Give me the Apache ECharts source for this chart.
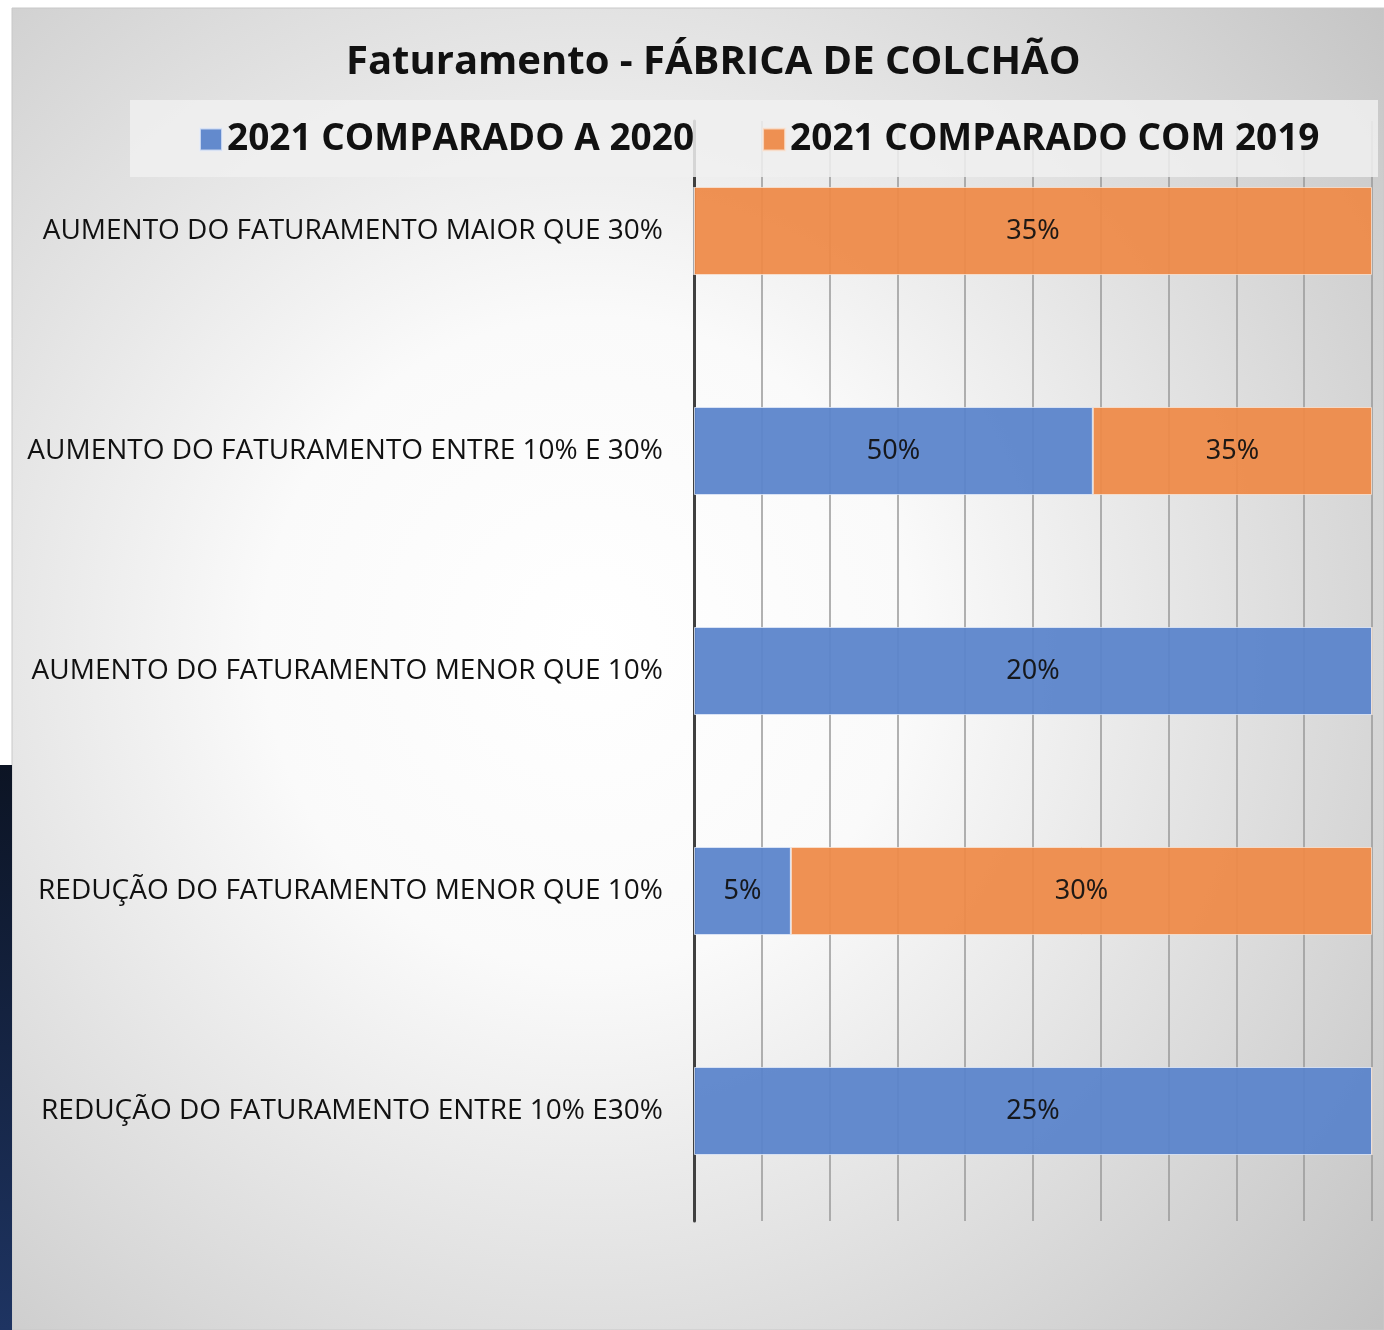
<!DOCTYPE html>
<html>
<head>
<meta charset="utf-8">
<style>
html,body{margin:0;padding:0;background:#fff;}
#chart{width:1384px;height:1330px;}
</style>
<script src="https://cdn.jsdelivr.net/npm/echarts@6/dist/echarts.min.js"></script>
</head>
<body>
<div id="chart"></div>
<script>
const titleText = 'Faturamento - FÁBRICA DE COLCHÃO';
const categories = [
  'AUMENTO DO FATURAMENTO MAIOR QUE 30%',
  'AUMENTO DO FATURAMENTO ENTRE 10% E 30%',
  'AUMENTO DO FATURAMENTO MENOR QUE 10%',
  'REDUÇÃO DO FATURAMENTO MENOR QUE 10%',
  'REDUÇÃO DO FATURAMENTO ENTRE 10% E30%'
];
const seriesNames = ['2021 COMPARADO A 2020', '2021 COMPARADO COM 2019'];
const values2020 = [0, 50, 20, 5, 25];
const values2019 = [35, 35, 0, 30, 0];

const totals = categories.map((c, i) => values2020[i] + values2019[i]);
function toShare(arr) {
  return arr.map((v, i) => ({ value: totals[i] ? v / totals[i] * 100 : 0, raw: v }));
}

const chart = echarts.init(document.getElementById('chart'));
const labelStyle = {
  show: true,
  position: 'inside',
  color: '#111',
  fontSize: 27,
  fontFamily: 'Noto Sans',
  padding: [5, 0, 0, 0],
  formatter: p => p.data.raw ? p.data.raw + '%' : ''
};

chart.setOption({
  animation: false,
  graphic: [
    { type: 'rect', z: -10, silent: true, shape: { x: 12, y: 8, width: 1372, height: 1322 },
      style: { fill: new echarts.graphic.RadialGradient(0.42, 0.48, 0.82, [
        { offset: 0, color: '#ffffff' },
        { offset: 0.3, color: '#fafafa' },
        { offset: 1, color: '#c0c0c0' }
      ]), stroke: '#c8c8c8', lineWidth: 1 } },
    { type: 'rect', z: -10, silent: true, shape: { x: 0, y: 765, width: 12, height: 565 },
      style: { fill: new echarts.graphic.LinearGradient(0, 0, 0, 1, [
        { offset: 0, color: '#0c1424' },
        { offset: 1, color: '#1e3462' }
      ]) } },
    { type: 'rect', z: 5, silent: true, shape: { x: 130, y: 100, width: 1248, height: 77 },
      style: { fill: 'rgba(240,240,240,0.85)' } }
  ],
  title: {
    text: titleText,
    left: 341,
    top: 38,
    textStyle: { fontFamily: 'Open Sans', fontWeight: 'bold', fontSize: 40, color: '#111' }
  },
  legend: {
    z: 10,
    left: 194,
    top: 116,
    itemWidth: 22,
    itemHeight: 22,
    itemGap: 68,
    icon: 'rect',
    textStyle: { fontFamily: 'Open Sans', fontWeight: 'bold', fontSize: 37, color: '#111' },
    data: seriesNames
  },
  grid: { left: 694, right: 12, top: 121, bottom: 109, containLabel: false },
  xAxis: {
    type: 'value', min: 0, max: 100, interval: 10,
    axisLabel: { show: false }, axisLine: { show: false }, axisTick: { show: false },
    splitLine: { show: true, lineStyle: { color: '#999', width: 1.5 } }
  },
  yAxis: {
    type: 'category', inverse: true, data: categories,
    axisLine: { show: true, lineStyle: { color: '#404040', width: 3 } },
    axisTick: { show: false },
    axisLabel: { margin: 31, color: '#111', fontSize: 28, fontFamily: 'Open Sans', padding: [5, 0, 0, 0] }
  },
  series: [
    { name: seriesNames[0], type: 'bar', stack: 'total', barCategoryGap: '60%', data: toShare(values2020),
      itemStyle: { color: '#5a84cb', opacity: 0.94, borderColor: 'rgba(230,236,250,0.8)', borderWidth: 1 },
      label: labelStyle },
    { name: seriesNames[1], type: 'bar', stack: 'total', barCategoryGap: '60%', data: toShare(values2019),
      itemStyle: { color: '#ee8a48', opacity: 0.94, borderColor: 'rgba(250,230,215,0.8)', borderWidth: 1 },
      label: labelStyle }
  ]
});
</script>
</body>
</html>
